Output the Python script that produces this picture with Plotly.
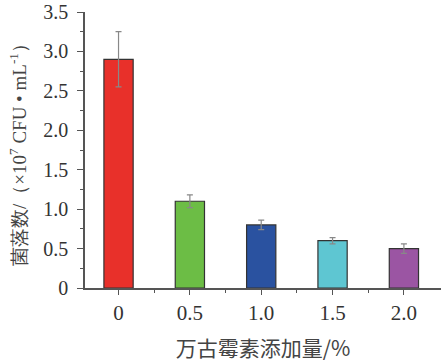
import plotly.graph_objects as go

categories = ["0", "0.5", "1.0", "1.5", "2.0"]
values = [2.9, 1.1, 0.8, 0.6, 0.5]
errors = [0.35, 0.08, 0.06, 0.04, 0.06]
colors = ["#e8302a", "#6cbd45", "#2a52a0", "#5ec6d2", "#9b55a3"]
y_ticks = [0, 0.5, 1.0, 1.5, 2.0, 2.5, 3.0, 3.5]
y_tick_text = ["0", "0.5", "1.0", "1.5", "2.0", "2.5", "3.0", "3.5"]

fig = go.Figure(go.Bar(
    x=list(range(len(categories))), y=values,
    marker=dict(color=colors, line=dict(color="#333333", width=1.2)),
    width=0.41,
    error_y=dict(type="data", array=errors, visible=True, color="#888888", thickness=1.2, width=3),
))

font_serif = "Liberation Serif, Times New Roman, serif"
fig.update_layout(
    width=441, height=364,
    margin=dict(l=85, r=0, t=12, b=76),
    paper_bgcolor="white", plot_bgcolor="white",
    showlegend=False,
    font=dict(family=font_serif, color="#333333"),
)
fig.update_xaxes(
    automargin=False,
    range=[-0.47, 4.52],
    tickmode="array", tickvals=list(range(len(categories))), ticktext=categories,
    showline=True, linecolor="#555555", linewidth=1.5,
    ticks="outside", ticklen=5, tickcolor="#555555",
    ticklabeloverflow="allow",
    minor=dict(tickvals=[0.5, 1.5, 2.5, 3.5], ticks="outside", ticklen=3, tickcolor="#555555"),
    tickfont=dict(size=21, family=font_serif, color="#333333"),
    showgrid=False, zeroline=False,
    title=dict(text="万古霉素添加量/%", font=dict(size=21, family="Noto Sans CJK SC, serif", color="#444444"), standoff=17),
)
fig.update_yaxes(
    automargin=False,
    range=[0, 3.5],
    tickmode="array", tickvals=y_ticks, ticktext=y_tick_text,
    showline=True, linecolor="#555555", linewidth=1.5,
    ticks="outside", ticklen=6, tickcolor="#555555",
    ticklabelstandoff=5,
    ticklabeloverflow="allow",
    minor=dict(dtick=0.25, ticks="outside", ticklen=3, tickcolor="#555555"),
    tickfont=dict(size=20, family=font_serif, color="#333333"),
    showgrid=False, zeroline=False,
    title=dict(text="菌落数/（×10<sup>7</sup> CFU • mL<sup>-1</sup>）", font=dict(size=19, family=font_serif, color="#444444"), standoff=12),
)

fig.write_html(
    "out.html",
    config={"displayModeBar": False},
    post_script="document.body.style.margin='0';document.body.style.overflow='hidden';",
)
